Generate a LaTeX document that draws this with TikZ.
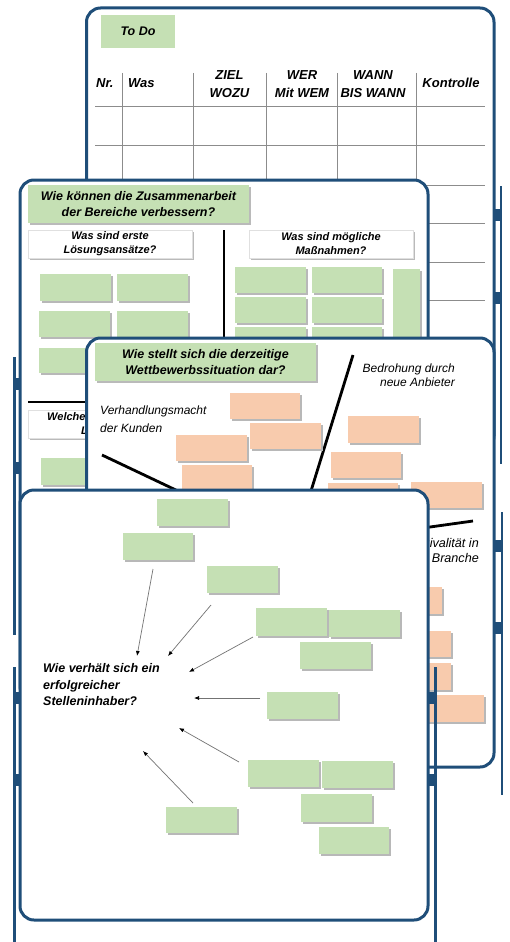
\documentclass[tikz,border=0pt]{standalone}
\usepackage{fontspec}
\setmainfont{Liberation Sans}
\usetikzlibrary{shadows,arrows.meta}
\definecolor{bblue}{HTML}{1F4E79}
\definecolor{gnote}{HTML}{C5E0B4}
\definecolor{onote}{HTML}{F8CBAD}
\tikzset{
  board/.style={draw=bblue, line width=3pt, fill=white, rounded corners=14pt},
  polestyle/.style={draw=bblue, line width=2.6pt},
  clipstyle/.style={fill=bblue},
  shd/.style={fill=black!28},
  tbl/.style={draw=black!45, line width=0.8pt},
  sep/.style={draw=black, line width=2.8pt},
  force/.style={draw=black, line width=2.8pt},
  arr/.style={draw=black!55, line width=0.7pt, -{Latex[length=5pt,width=4pt,color=black]}},
  hdr/.style={font=\fontsize{13}{18}\selectfont\bfseries\itshape, align=center, inner sep=0pt},
  gtitle/.style={fill=gnote, inner sep=0pt, align=center,
     font=\fontsize{12.5}{16.5}\selectfont\bfseries\itshape,
     drop shadow={shadow xshift=1.5pt, shadow yshift=-1.8pt, fill=black!45, opacity=0.6}},
  wbox/.style={fill=white, draw=black!12, line width=0.4pt, inner sep=0pt, align=center,
     font=\fontsize{11}{14}\selectfont\bfseries\itshape,
     drop shadow={shadow xshift=1.5pt, shadow yshift=-1.8pt, fill=black!45, opacity=0.6}},
  lbl/.style={inner sep=0pt, font=\fontsize{12}{14.5}\selectfont\itshape},
  qtext/.style={inner sep=0pt, align=left, font=\fontsize{12.5}{16.5}\selectfont\bfseries\itshape},
}
\newcommand\gn[4]{\fill[shd, shift={(1.5,1.8)}] (#1,#2) rectangle (#3,#4); \fill[gnote] (#1,#2) rectangle (#3,#4);}
\newcommand\on[4]{\fill[shd, shift={(1.5,1.8)}] (#1,#2) rectangle (#3,#4); \fill[onote] (#1,#2) rectangle (#3,#4);}
% pole: x, board edge x, top, bottom, clip1, clip2
\newcommand\standpole[6]{\draw[polestyle] (#1,#3) -- (#1,#4);
  \fill[clipstyle] (#1,#5) rectangle (#2,#5+12);
  \fill[clipstyle] (#1,#6) rectangle (#2,#6+12);}
\begin{document}
\begin{tikzpicture}[x=1pt,y=-1pt]
\useasboundingbox (0,0) rectangle (509,942);

% ===== Board 1: To Do =====
\draw[board] (86.5,8) rectangle (494,450);
\standpole{501}{494}{186}{464}{209}{292}
\node[fill=gnote, minimum width=74pt, minimum height=33pt, inner sep=0pt,
      font=\fontsize{12.5}{15}\selectfont\bfseries\itshape] (todo) at (138,31.5) {To Do};
\foreach \x in {122,193,266,337,416} \draw[tbl] (\x,73) -- (\x,330);
\foreach \y in {106,145,185,223,262,300} \draw[tbl] (95,\y) -- (485,\y);
\node[hdr, anchor=west] (hnr) at (96,83) {Nr.};
\node[hdr, anchor=west] (hwas) at (128,83) {Was};
\node[hdr] (hziel) at (229.5,84) {ZIEL\\WOZU};
\node[hdr] (hwer) at (302,84) {WER\\Mit WEM};
\node[hdr] (hwann) at (373,84) {WANN\\BIS WANN};
\node[hdr] (hkon) at (451,83) {Kontrolle};

% ===== Board 2: Zusammenarbeit =====
\draw[board] (20,180) rectangle (428,700);
\standpole{14.5}{20}{357}{635}{378}{462}
\node[gtitle, minimum width=221pt, minimum height=38pt] (t2) at (138.5,204)
  {Wie können die Zusammenarbeit\\der Bereiche verbessern?};
\node[wbox, minimum width=164pt, minimum height=28pt] (s2a) at (110,244) {Was sind erste\\Lösungsansätze?};
\node[wbox, minimum width=164pt, minimum height=28pt] (s2b) at (331,244) {Was sind mögliche\\Maßnahmen?};
\draw[sep] (224,230) -- (224,395);
\draw[sep] (28,402) -- (210,402);
\node[wbox, minimum width=164pt, minimum height=28pt] (s2c) at (110,424) {};
\node[inner sep=0pt, anchor=west, align=left, font=\fontsize{11}{14}\selectfont\bfseries\itshape]
  (s2ct) at (47,424) {Welche\\\hspace*{34pt}L};
\gn{40}{274}{111}{301} \gn{117}{274}{188}{301}
\gn{39}{311}{110}{337} \gn{117}{311}{188}{337}
\gn{39}{348}{110}{373} \gn{117}{348}{188}{373}
\gn{41}{458}{112}{485}
\gn{235}{267}{306}{293} \gn{312}{267}{382}{293}
\gn{235}{297}{306}{323} \gn{312}{297}{382}{323}
\gn{235}{327}{306}{353} \gn{312}{327}{382}{353}
\gn{393}{269}{420}{400}

% ===== Board 3: Wettbewerb =====
\draw[board] (86.5,338) rectangle (494,767);
\standpole{502}{494}{512}{795}{540}{622}
\node[gtitle, minimum width=221pt, minimum height=38pt] (t3) at (205.5,362)
  {Wie stellt sich die derzeitige\\Wettbewerbssituation dar?};
\coordinate (c3) at (294,546);
\coordinate (f1) at (353,355);
\coordinate (f2) at (102,455);
\coordinate (f3) at (473,521);
\draw[force] (f1) -- (c3);
\draw[force] (f2) -- (c3);
\draw[force] (f3) -- (c3);
\node[lbl, anchor=east, align=right] (l1) at (455,375) {Bedrohung durch\\neue Anbieter};
\node[lbl, anchor=west, align=left, font=\fontsize{12}{17.5}\selectfont\itshape] (l2) at (100,419) {Verhandlungsmacht\\der Kunden};
\node[lbl, anchor=east, align=right, font=\fontsize{12.6}{15}\selectfont\itshape] (l3) at (479,550.5) {Rivalität in\\der Branche};
\on{230}{393}{300}{419}
\on{250}{423}{321}{449}
\on{176}{435}{247}{461}
\on{182}{465}{252}{492}
\on{348}{416}{419}{443}
\on{331}{452}{401}{478}
\on{328}{483}{398}{510}
\on{411}{482}{482}{508}
\on{371}{587}{442}{614}
\on{380}{631}{451}{657}
\on{380}{663}{451}{690}
\on{413}{695}{484}{722}

% ===== Board 4: Stelleninhaber =====
\draw[board] (20,490) rectangle (428,920);
\standpole{14.5}{20}{667}{942}{692}{774}
\standpole{435.5}{428}{667}{942}{692}{774}
\gn{157}{499}{228}{526}
\gn{123}{533}{193}{560}
\gn{207}{566}{278}{593}
\gn{256}{608}{327}{636}
\gn{329}{610}{400}{637}
\gn{300}{642}{371}{669}
\gn{267}{692}{338}{719}
\gn{248}{760}{319}{787}
\gn{322}{761}{393}{788}
\gn{301}{794}{372}{822}
\gn{319}{827}{389}{854}
\gn{166}{807}{237}{833}
\node[qtext, anchor=west] (q4) at (43,685) {Wie verhält sich ein\\erfolgreicher\\Stelleninhaber?};
\coordinate (a1s) at (153,569); \coordinate (a1e) at (137,656);
\coordinate (a2s) at (211,605); \coordinate (a2e) at (168,656);
\coordinate (a3s) at (253,637); \coordinate (a3e) at (189,672);
\coordinate (a4s) at (260,698); \coordinate (a4e) at (194,698);
\coordinate (a5s) at (239,762); \coordinate (a5e) at (179,728);
\coordinate (a6s) at (193,803); \coordinate (a6e) at (143,751);
\draw[arr] (a1s) -- (a1e);
\draw[arr] (a2s) -- (a2e);
\draw[arr] (a3s) -- (a3e);
\draw[arr] (a4s) -- (a4e);
\draw[arr] (a5s) -- (a5e);
\draw[arr] (a6s) -- (a6e);
\end{tikzpicture}
\end{document}
